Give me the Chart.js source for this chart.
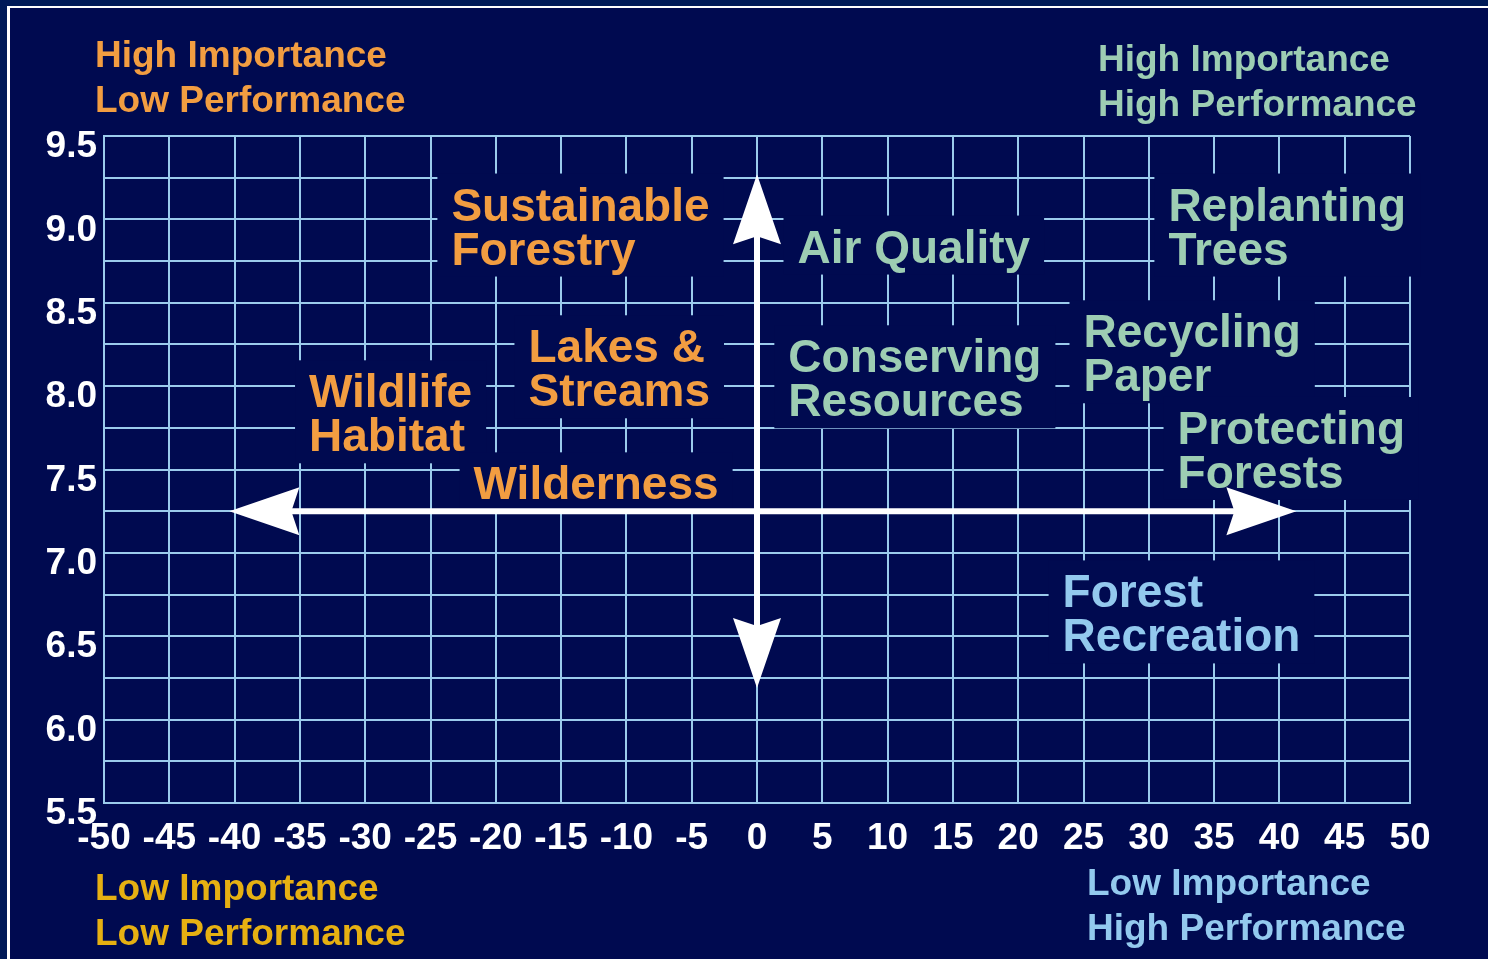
<!DOCTYPE html>
<html>
<head>
<meta charset="utf-8">
<script src="https://cdn.jsdelivr.net/npm/chart.js@4.4.1/dist/chart.umd.min.js"></script>
<style>
  html, body { margin: 0; padding: 0; background: #000A50; }
  canvas { display: block; }
</style>
</head>
<body>
<canvas id="chart" width="1488" height="959"></canvas>
<script>
// ===== DATA =====
// label anchor: x = performance gap (left edge of text), y = importance (middle of text block)
const attributes = [
  ['Sustainable', 'Forestry'],
  ['Air Quality'],
  ['Replanting', 'Trees'],
  ['Lakes &', 'Streams'],
  ['Wildlife', 'Habitat'],
  ['Wilderness'],
  ['Conserving', 'Resources'],
  ['Recycling', 'Paper'],
  ['Protecting', 'Forests'],
  ['Forest', 'Recreation']
];
const performance = [-23.4, 3.1, 31.5, -17.5, -34.3, -21.7, 2.4, 25.0, 32.2, 23.4];
const importance  = [8.96, 8.84, 8.96, 8.11, 7.84, 7.42, 8.05, 8.20, 7.62, 6.64];
const attributeColors = [
  '#F29D41', '#9DCDB3', '#9DCDB3', '#F29D41', '#F29D41',
  '#F29D41', '#9DCDB3', '#9DCDB3', '#9DCDB3', '#93C9EE'
];

const xTickLabels = ['-50', '-45', '-40', '-35', '-30', '-25', '-20', '-15', '-10', '-5', '0',
                     '5', '10', '15', '20', '25', '30', '35', '40', '45', '50'];
const yTickLabels = ['5.5', '6.0', '6.5', '7.0', '7.5', '8.0', '8.5', '9.0', '9.5'];

// crosshair arrows
const crossX = 0;
const crossY = 7.25;
const arrowXRange = [-40.4, 41.3];
const arrowYRange = [6.19, 9.27];

// quadrant captions (page layout, pixels)
const cornerTexts = [
  { lines: ['High Importance', 'Low Performance'], x: 95, y: 67, color: '#F29D41' },
  { lines: ['High Importance', 'High Performance'], x: 1098, y: 71, color: '#9DCDB3' },
  { lines: ['Low Importance', 'Low Performance'], x: 95, y: 900, color: '#E6B012' },
  { lines: ['Low Importance', 'High Performance'], x: 1087, y: 895, color: '#93C9EE' }
];

const BG = '#000A50';
const OUTER_BG = '#001A58';
const GRID = '#9BCBEC';
const LABEL_FONT = 'bold 46px "Liberation Sans", Arial, sans-serif';
const CORNER_FONT = 'bold 37px "Liberation Sans", Arial, sans-serif';
const LINE_H = 44;
const CAP = 33;

// ===== PLUGINS =====
const backdrop = {
  id: 'backdrop',
  beforeDraw(chart) {
    const { ctx, width, height } = chart;
    ctx.save();
    ctx.fillStyle = OUTER_BG;
    ctx.fillRect(0, 0, width, height);
    ctx.fillStyle = BG;
    ctx.fillRect(9, 8, width, height);
    ctx.fillStyle = '#FFFFFF';
    ctx.fillRect(7, 6, width, 2);
    ctx.fillRect(7, 6, 3, height);
    ctx.restore();
  }
};

const labels = {
  id: 'labels',
  afterDatasetsDraw(chart) {
    const { ctx } = chart;
    const meta = chart.getDatasetMeta(0);
    ctx.save();
    ctx.font = LABEL_FONT;
    ctx.textBaseline = 'alphabetic';
    ctx.textAlign = 'left';
    const boxes = attributes.map((lines, i) => {
      const pt = meta.data[i];
      const w = Math.max(...lines.map(l => ctx.measureText(l).width));
      const h = (lines.length - 1) * LINE_H + CAP;
      return { x: pt.x, top: pt.y - h / 2, w, h };
    });
    // knock the grid out behind each label
    ctx.fillStyle = BG;
    boxes.forEach(b => ctx.fillRect(b.x - 14, b.top - 14, b.w + 28, b.h + 26));
    boxes.forEach((b, i) => {
      ctx.fillStyle = attributeColors[i];
      attributes[i].forEach((l, j) => ctx.fillText(l, b.x, b.top + CAP + j * LINE_H));
    });
    ctx.restore();
  }
};

function arrowHead(ctx, tx, ty, dx, dy) {
  const L = 70, W = 24, N = 8;
  const bx = tx - dx * L, by = ty - dy * L;
  const px = -dy, py = dx;
  ctx.beginPath();
  ctx.moveTo(tx, ty);
  ctx.lineTo(bx + px * W, by + py * W);
  ctx.lineTo(tx - dx * (L - N), ty - dy * (L - N));
  ctx.lineTo(bx - px * W, by - py * W);
  ctx.closePath();
  ctx.fill();
}

const crosshair = {
  id: 'crosshair',
  afterDraw(chart) {
    const { ctx, scales: { x, y } } = chart;
    const cx = x.getPixelForValue(crossX);
    const cy = y.getPixelForValue(crossY);
    const left = x.getPixelForValue(arrowXRange[0]);
    const right = x.getPixelForValue(arrowXRange[1]);
    const top = y.getPixelForValue(arrowYRange[1]);
    const bottom = y.getPixelForValue(arrowYRange[0]);
    ctx.save();
    ctx.strokeStyle = '#FFFFFF';
    ctx.fillStyle = '#FFFFFF';
    ctx.lineWidth = 6;
    ctx.beginPath();
    ctx.moveTo(left + 40, cy);
    ctx.lineTo(right - 40, cy);
    ctx.moveTo(cx, top + 40);
    ctx.lineTo(cx, bottom - 40);
    ctx.stroke();
    arrowHead(ctx, left, cy, -1, 0);
    arrowHead(ctx, right, cy, 1, 0);
    arrowHead(ctx, cx, top, 0, -1);
    arrowHead(ctx, cx, bottom, 0, 1);
    ctx.restore();
  }
};

const corners = {
  id: 'corners',
  afterDraw(chart) {
    const { ctx } = chart;
    ctx.save();
    ctx.font = CORNER_FONT;
    ctx.textAlign = 'left';
    ctx.textBaseline = 'alphabetic';
    cornerTexts.forEach(c => {
      ctx.fillStyle = c.color;
      c.lines.forEach((l, j) => ctx.fillText(l, c.x, c.y + j * 45));
    });
    ctx.restore();
  }
};

// ===== CHART =====
const tickFont = { family: '"Liberation Sans", Arial', size: 37, weight: 'bold' };

new Chart(document.getElementById('chart'), {
  type: 'scatter',
  data: {
    datasets: [{
      label: 'Attributes',
      data: attributes.map((a, i) => ({ x: performance[i], y: importance[i] })),
      pointRadius: 0,
      showLine: false
    }]
  },
  options: {
    responsive: false,
    animation: false,
    layout: { padding: { left: 0, right: 78, top: 136, bottom: 96 } },
    plugins: {
      legend: { display: false },
      tooltip: { enabled: false }
    },
    scales: {
      x: {
        min: -50,
        max: 50,
        afterFit(scale) { scale.height = 60; },
        grid: { color: GRID, lineWidth: 2, drawTicks: false },
        border: { display: true, color: GRID, width: 2 },
        ticks: {
          stepSize: 5,
          autoSkip: false,
          maxRotation: 0,
          padding: 14,
          color: '#FFFFFF',
          font: tickFont,
          callback: (v, i) => xTickLabels[i]
        }
      },
      y: {
        min: 5.5,
        max: 9.5,
        afterFit(scale) { scale.width = 104; },
        grid: { color: GRID, lineWidth: 2, drawTicks: false },
        border: { display: true, color: GRID, width: 2 },
        ticks: {
          stepSize: 0.25,
          autoSkip: false,
          padding: 7,
          labelOffset: 11,
          color: '#FFFFFF',
          font: tickFont,
          callback: (v, i) => (i % 2 === 0 ? yTickLabels[i / 2] : '')
        }
      }
    }
  },
  plugins: [backdrop, labels, crosshair, corners]
});
</script>
</body>
</html>
